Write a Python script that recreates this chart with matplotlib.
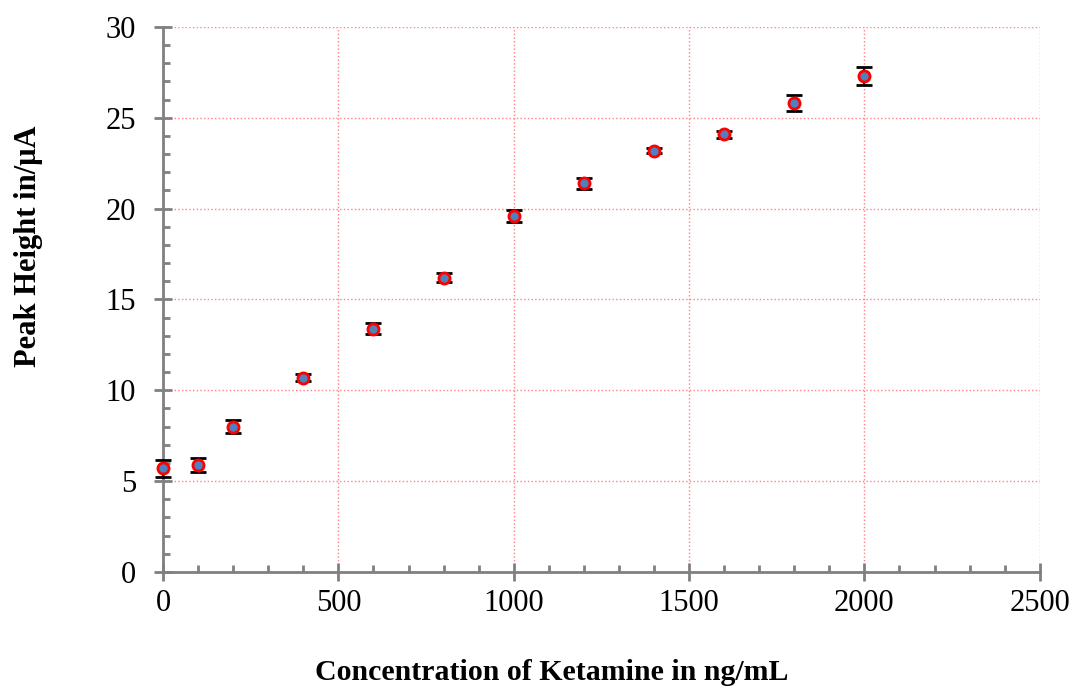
import matplotlib.pyplot as plt
from matplotlib.ticker import MultipleLocator

# Data
conc = [0, 100, 200, 400, 600, 800, 1000, 1200, 1400, 1600, 1800, 2000]
peak = [5.7, 5.9, 8.0, 10.7, 13.4, 16.2, 19.6, 21.4, 23.2, 24.1, 25.8, 27.3]
err = [0.45, 0.38, 0.35, 0.2, 0.3, 0.25, 0.35, 0.3, 0.15, 0.2, 0.45, 0.5]

plt.rcParams['font.family'] = ['Liberation Serif', 'DejaVu Serif']

fig = plt.figure(figsize=(10.73, 6.88), dpi=100)
ax = fig.add_axes([0.152, 0.1686, 0.817, 0.7922])

ax.errorbar(conc, peak, yerr=err, fmt='o', color='black', ecolor='black',
            elinewidth=1.5, capsize=6, capthick=2,
            markerfacecolor='#4F81BD', markeredgecolor='#FF0000',
            markeredgewidth=2, markersize=8, zorder=3, clip_on=False)

ax.set_xlim(0, 2500)
ax.set_ylim(0, 30)
ax.xaxis.set_major_locator(MultipleLocator(500))
ax.xaxis.set_minor_locator(MultipleLocator(100))
ax.yaxis.set_major_locator(MultipleLocator(5))
ax.yaxis.set_minor_locator(MultipleLocator(1))

ax.grid(True, which='major', color='#FF8080', linestyle=':', linewidth=1)
ax.set_axisbelow(True)

for s in ['top', 'right']:
    ax.spines[s].set_visible(False)
for s in ['left', 'bottom']:
    ax.spines[s].set_color('#808080')
    ax.spines[s].set_linewidth(2)

ax.tick_params(which='major', direction='inout', length=13, width=2,
               color='#808080', labelsize=22)
ax.tick_params(axis='x', which='major', pad=6)
ax.tick_params(axis='y', which='major', pad=13)
ax.tick_params(which='minor', direction='in', length=5, width=2, color='#808080')

ax.set_xlabel('Concentration of Ketamine in ng/mL', fontsize=21.5,
              fontweight='bold')
ax.set_ylabel('Peak Height in/μA', fontsize=22, fontweight='bold')
ax.xaxis.set_label_coords(0.4436, -0.16)
ax.yaxis.set_label_coords(-0.137, 0.598)

fig.savefig('out.png', dpi=100)
